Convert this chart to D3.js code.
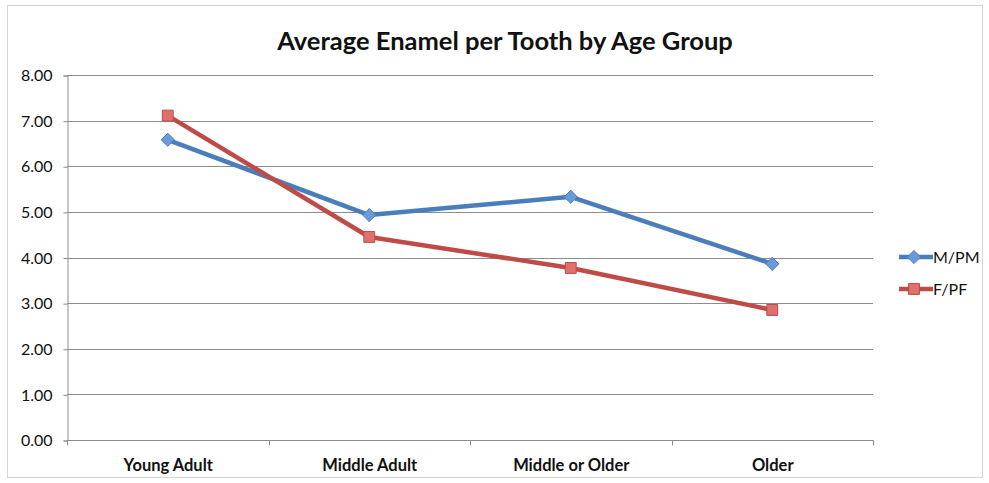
<!DOCTYPE html>
<html>
<head>
<meta charset="utf-8">
<script src="https://cdn.jsdelivr.net/npm/d3@7"></script>
<style>
  body { margin: 0; background: #fff; }
  svg text { font-family: Lato, "Open Sans", sans-serif; fill: #111; }
</style>
</head>
<body>
<div id="chart"></div>
<script>
const categories = ["Young Adult", "Middle Adult", "Middle or Older", "Older"];
const seriesNames = ["M/PM", "F/PF"];
const mpmValues = [6.58, 4.93, 5.33, 3.86];
const fpfValues = [7.11, 4.45, 3.77, 2.85];
const yTicks = [0, 1, 2, 3, 4, 5, 6, 7, 8];

const width = 989, height = 483;
const margin = { top: 75, left: 67, right: 116, bottom: 43 };
const colors = { "M/PM": "#4A7EBB", "F/PF": "#BE4B48" };
const fills = { "M/PM": "#6A9BD8", "F/PF": "#E0706D" };

const svg = d3.select("#chart").append("svg")
  .attr("width", width)
  .attr("height", height);

// outer frame
svg.append("rect")
  .attr("x", 7.5).attr("y", 5.5)
  .attr("width", 975).attr("height", 472)
  .attr("fill", "none")
  .attr("stroke", "#d4d4d4");

const x = d3.scaleBand()
  .domain(categories)
  .range([margin.left, width - margin.right]);

const y = d3.scaleLinear()
  .domain([0, 8])
  .range([height - margin.bottom, margin.top]);

// gridlines
svg.append("g")
  .selectAll("line")
  .data(yTicks.filter(d => d > 0))
  .join("line")
  .attr("x1", margin.left)
  .attr("x2", width - margin.right)
  .attr("y1", d => Math.round(y(d)) + 0.5)
  .attr("y2", d => Math.round(y(d)) + 0.5)
  .attr("stroke", "#8c8c8c")
  .attr("stroke-width", 1);

// y axis
const yAxis = svg.append("g")
  .attr("transform", `translate(${margin.left + 0.5},0.5)`)
  .call(d3.axisLeft(y).tickValues(yTicks).tickFormat(d3.format(".2f")).tickSize(4).tickPadding(11));
yAxis.select(".domain").attr("stroke", "#8c8c8c");
yAxis.selectAll(".tick line").attr("stroke", "#8c8c8c");
yAxis.selectAll("text").attr("font-size", 16).attr("fill", "#111");

// x axis
const xAxis = svg.append("g")
  .attr("transform", `translate(0.5,${height - margin.bottom + 0.5})`);
xAxis.append("line")
  .attr("x1", margin.left).attr("x2", width - margin.right)
  .attr("stroke", "#8c8c8c");
const bounds = categories.map(c => x(c)).concat([x.range()[1]]);
xAxis.selectAll(".xt")
  .data(bounds)
  .join("line")
  .attr("x1", d => Math.round(d)).attr("x2", d => Math.round(d))
  .attr("y1", 0).attr("y2", 5)
  .attr("stroke", "#8c8c8c");
xAxis.selectAll("text")
  .data(categories)
  .join("text")
  .attr("x", d => x(d) + x.bandwidth() / 2)
  .attr("y", 30)
  .attr("text-anchor", "middle")
  .attr("font-size", 16.5)
  .attr("font-weight", "bold")
  .text(d => d);

// title
svg.append("text")
  .attr("x", 505)
  .attr("y", 50)
  .attr("text-anchor", "middle")
  .attr("font-size", 25.5)
  .attr("font-weight", "bold")
  .text("Average Enamel per Tooth by Age Group");

const series = [
  { name: "M/PM", values: mpmValues },
  { name: "F/PF", values: fpfValues }
];

const line = d3.line()
  .x((d, i) => x(categories[i]) + x.bandwidth() / 2)
  .y(d => y(d));

const diamond = d3.symbol().type(d3.symbolDiamond2).size(110);
const square = d3.symbol().type(d3.symbolSquare2).size(150);

function drawMarker(g, name) {
  g.append("path")
    .attr("d", name === "M/PM" ? diamond() : square())
    .attr("fill", fills[name])
    .attr("stroke", colors[name])
    .attr("stroke-width", 1);
}

series.forEach(s => {
  svg.append("path")
    .datum(s.values)
    .attr("d", line)
    .attr("fill", "none")
    .attr("stroke", colors[s.name])
    .attr("stroke-width", 4.5)
    .attr("stroke-linejoin", "round");
  s.values.forEach((v, i) => {
    const g = svg.append("g")
      .attr("transform", `translate(${x(categories[i]) + x.bandwidth() / 2},${y(v)})`);
    drawMarker(g, s.name);
  });
});

// legend
const legend = svg.append("g");
seriesNames.forEach((name, i) => {
  const ly = 257 + i * 32;
  legend.append("line")
    .attr("x1", 899).attr("x2", 933)
    .attr("y1", ly).attr("y2", ly)
    .attr("stroke", colors[name])
    .attr("stroke-width", 4.5);
  const g = legend.append("g").attr("transform", `translate(914,${ly})`);
  drawMarker(g, name);
  legend.append("text")
    .attr("x", 933)
    .attr("y", ly + 6)
    .attr("font-size", 16)
    .text(name);
});
</script>
</body>
</html>
